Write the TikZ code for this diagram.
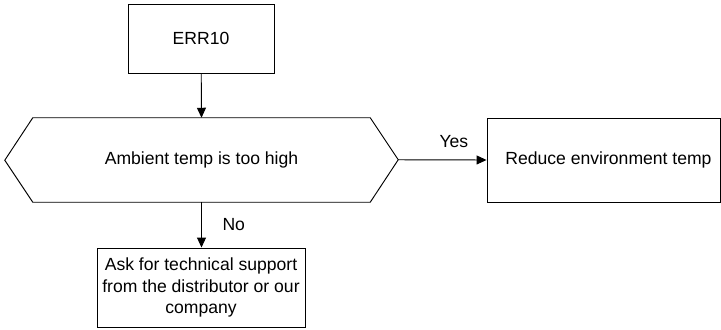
\documentclass[tikz,border=0pt]{standalone}
\usepackage{fontspec}
\setmainfont{Liberation Sans}
\usetikzlibrary{arrows.meta}

\begin{document}
\begin{tikzpicture}[line join=miter,
    box/.style={draw,line width=0.8pt,inner sep=0pt,align=center},
    conn/.style={line width=0.8pt,-{Triangle[length=0.3cm,width=0.27cm]}},
    font=\fontsize{15}{18.5}\selectfont]
  \useasboundingbox (0,0) rectangle (21.63,9.87);
  \node[box,minimum width=4.38cm,minimum height=2.07cm] (err) at (6.03,8.715) {ERR10};
  \node[minimum width=10.11cm,minimum height=2.52cm,inner sep=0pt] (amb) at (6.045,5.07) {Ambient temp is too high};
  \draw[line width=0.8pt] (amb.north west) -- (amb.north east) -- ++(0.84,-1.26) coordinate (ambE)
    -- (amb.south east) -- (amb.south west) -- ++(-0.84,1.26) -- cycle;
  \node[box,minimum width=6.99cm,minimum height=2.52cm] (red) at (18.105,5.07) {\hspace{0.3cm}Reduce environment temp};
  \node[box,minimum width=6.24cm,minimum height=2.37cm] (ask) at (6.03,1.245)
    {Ask for technical support\\from the distributor or our\\company};
  \draw[conn] (err) -- (amb.north);
  \draw[conn] (ambE) -- (red.west) node[pos=0.63,above=0.25cm] (yes) {Yes};
  \draw[conn] (amb.south) -- (amb.south |- ask.north) node[pos=0.5,right=0.5cm] (no) {No};
\end{tikzpicture}
\end{document}
